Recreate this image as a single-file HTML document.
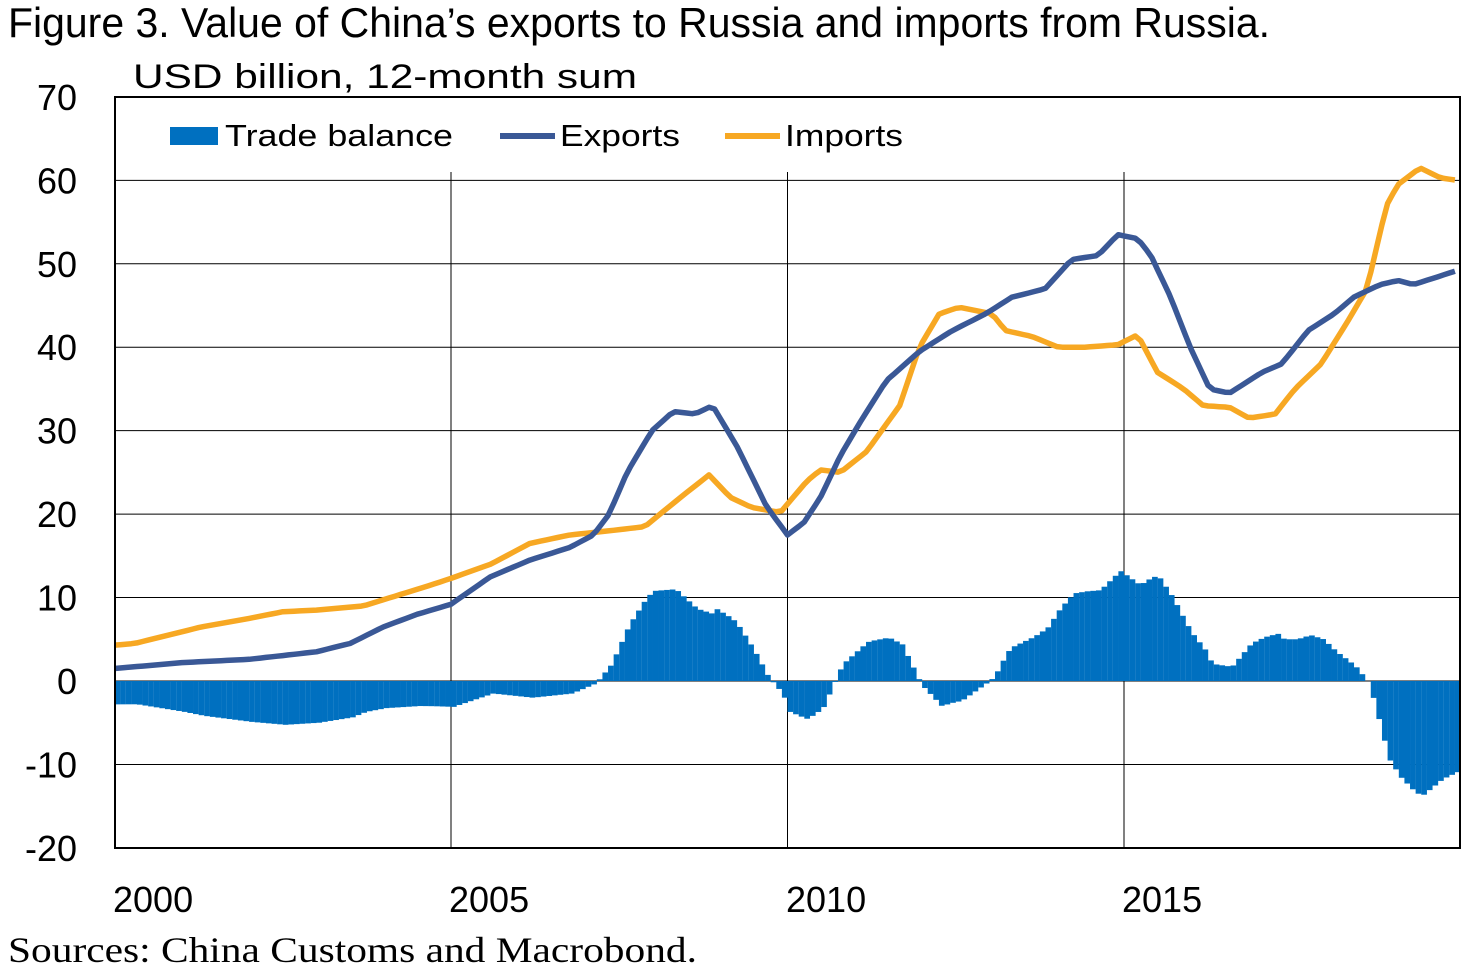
<!DOCTYPE html>
<html><head><meta charset="utf-8"><style>
html,body{margin:0;padding:0;background:#fff;}
svg{display:block;}
</style></head><body>
<svg id="s" width="1469" height="980" xmlns="http://www.w3.org/2000/svg" font-family="Liberation Sans, Arial, sans-serif">
<rect width="1469" height="980" fill="#fff"/>
<text x="8" y="37" font-size="42" textLength="1262" lengthAdjust="spacingAndGlyphs">Figure 3. Value of China’s exports to Russia and imports from Russia.</text>
<text x="133" y="88" font-size="34" textLength="504" lengthAdjust="spacingAndGlyphs">USD billion, 12-month sum</text>
<g id="grid"></g>
<g id="bars"></g>
<g id="lines"></g>
<rect x="115" y="97" width="1345" height="751" fill="none" stroke="#000" stroke-width="2"/>
<rect x="150" y="110" width="780" height="50" fill="#fff"/>
<rect x="170" y="127" width="48" height="18" fill="#0070c0"/>
<text x="225" y="146" font-size="31" textLength="228" lengthAdjust="spacingAndGlyphs">Trade balance</text>
<line x1="500" y1="136" x2="555" y2="136" stroke="#3a5896" stroke-width="6"/>
<text x="560" y="146" font-size="31" textLength="120" lengthAdjust="spacingAndGlyphs">Exports</text>
<line x1="725" y1="136" x2="780" y2="136" stroke="#f7a823" stroke-width="6"/>
<text x="785" y="146" font-size="31" textLength="118" lengthAdjust="spacingAndGlyphs">Imports</text>
<g id="ylab" font-size="36" text-anchor="end"></g>
<g font-size="36">
<text x="113" y="912">2000</text><text x="449" y="912">2005</text><text x="786" y="912">2010</text><text x="1122" y="912">2015</text>
</g>
<text x="8" y="962" font-size="36" font-family="Liberation Serif, serif" textLength="689" lengthAdjust="spacingAndGlyphs">Sources: China Customs and Macrobond.</text>
</svg>
<script>
const NS="http://www.w3.org/2000/svg";
const X=t=>114.5+(t-2000)*67.3, Y=v=>681-v*8.344;
function el(p,tag,a){const e=document.createElementNS(NS,tag);for(const k in a)e.setAttribute(k,a[k]);p.appendChild(e);return e;}
const g=document.getElementById('grid'),yl=document.getElementById('ylab');
for(let v=-20;v<=70;v+=10){const y=Y(v);if(v>-20&&v<70)el(g,'line',{x1:115,x2:1460,y1:y,y2:y,stroke:'#000','stroke-width':1});
const t=el(yl,'text',{x:77,y:y+13});t.textContent=v;}
[2005,2010,2015].forEach(t=>el(g,'line',{x1:X(t),x2:X(t),y1:172,y2:848,stroke:'#000','stroke-width':1}));
const E0=[[2000,1.5],[2001,2.2],[2002,2.6],[2003,3.5],[2003.5,4.5],[2004,6.5],[2004.5,8],[2005,9.2],[2005.5,12.5],[2006,14.5],[2006.5,16],[2006.8,17.5],[2007,20],[2007.25,25],[2007.6,30],[2007.9,32.3],[2008.2,32],[2008.45,33],[2008.8,28],[2009.2,21],[2009.5,17.5],[2009.75,19],[2010,22],[2010.3,27],[2010.6,31],[2011,36],[2011.5,39.5],[2012,42],[2012.5,44],[2012.9,46],[2013.4,47],[2013.8,50.5],[2014.2,51],[2014.5,53.5],[2014.8,53],[2015,51],[2015.3,46],[2015.6,40],[2015.9,35],[2016.2,34.5],[2016.7,37],[2017,38],[2017.4,42],[2017.8,44],[2018.1,46],[2018.5,47.5],[2018.9,48],[2019.3,47.5],[2019.95,49.2]];
const I0=[[2000,4.3],[2000.3,4.5],[2000.8,5.5],[2001.3,6.5],[2002,7.5],[2002.5,8.3],[2003,8.5],[2003.7,9],[2004.3,10.5],[2004.7,11.5],[2005,12.3],[2005.5,14],[2006,16.5],[2006.5,17.5],[2007,18],[2007.5,18.5],[2008,22],[2008.4,24.7],[2008.7,22],[2009,20.8],[2009.4,20.2],[2009.8,24],[2010,25.3],[2010.3,25],[2010.7,27.5],[2011.2,33],[2011.5,40],[2011.8,44],[2012.1,44.8],[2012.6,44],[2012.8,42],[2013.2,41.3],[2013.6,40],[2014,40],[2014.5,40.3],[2014.8,41.5],[2015.1,37],[2015.5,35],[2015.8,33],[2016.2,32.8],[2016.5,31.5],[2016.9,32],[2017.2,35],[2017.6,38],[2018,43],[2018.3,47],[2018.6,57],[2018.9,59.5],[2019.4,61.5],[2019.7,60.3],[2019.95,60]];
const S=[[2000,0],[2005,0],[2007,0.35],[2009.5,0.5],[2012,0.45],[2015,0.4],[2018.6,0.3],[2019.3,0],[2020,0]];
function f(a,t){for(let i=1;i<a.length;i++)if(t<=a[i][0]){const[x0,y0]=a[i-1],[x1,y1]=a[i];return y0+(y1-y0)*(t-x0)/(x1-x0);}return a[a.length-1][1];}
const E=E0.map(([t,v])=>[t+f(S,t),v]), I=I0.map(([t,v])=>[t+f(S,t),v]);
const b=document.getElementById('bars');
for(let m=0;m<240;m++){const t=2000+m/12;const v=f(E,t)-f(I,t);const x=X(t);
el(b,'rect',{x:x,y:Math.min(Y(v),Y(0)),width:5.7,height:Math.abs(Y(v)-Y(0)),fill:'#0070c0'});}
const L=document.getElementById('lines');
[[I,'#f7a823'],[E,'#3a5896']].forEach(([a,c])=>{let d='';for(let m=0;m<=239;m++){const t=2000+m/12;d+=(m?'L':'M')+X(t).toFixed(1)+','+Y(f(a,t)).toFixed(1);}
el(L,'path',{d:d,fill:'none',stroke:c,'stroke-width':5.5,'stroke-linejoin':'round'});});
</script>
</body></html>
